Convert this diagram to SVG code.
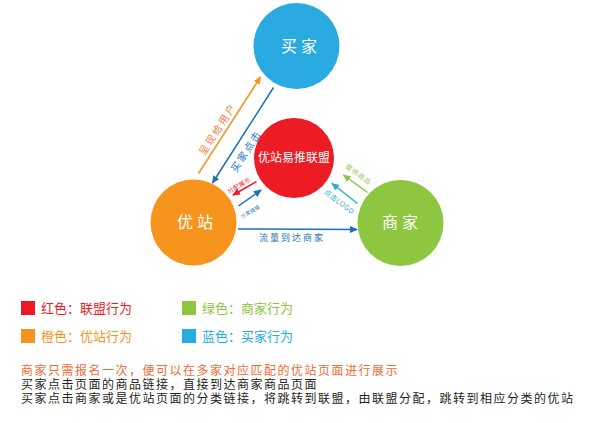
<svg xmlns="http://www.w3.org/2000/svg" width="590" height="423" viewBox="0 0 590 423">
<style>
text{font-family:"Noto Sans CJK SC","Liberation Sans",sans-serif}
.node{font-size:16px;fill:#fff;letter-spacing:4px}
.lbl{dominant-baseline:central;text-anchor:middle}
.ln{fill:none;stroke-width:1.5}
.leg{font-size:13px}
.note{font-family:"Liberation Sans","Noto Sans CJK SC",sans-serif;font-size:12px;letter-spacing:1.5px}
</style>
<defs>
<marker id="aO" markerWidth="8" markerHeight="8" refX="7" refY="4" orient="auto" markerUnits="userSpaceOnUse"><path d="M0,0.5 L8,4 L0,7.5 Z" fill="#f7941d"/></marker>
<marker id="aB" markerWidth="8" markerHeight="8" refX="7" refY="4" orient="auto" markerUnits="userSpaceOnUse"><path d="M0,0.5 L8,4 L0,7.5 Z" fill="#1c6fb8"/></marker>
<marker id="aR" markerWidth="8" markerHeight="8" refX="7" refY="4" orient="auto" markerUnits="userSpaceOnUse"><path d="M0,0.5 L8,4 L0,7.5 Z" fill="#ed1c24"/></marker>
<marker id="aG" markerWidth="8" markerHeight="8" refX="7" refY="4" orient="auto" markerUnits="userSpaceOnUse"><path d="M0,0.5 L8,4 L0,7.5 Z" fill="#8dc63f"/></marker>
<marker id="aL" markerWidth="8" markerHeight="8" refX="7" refY="4" orient="auto" markerUnits="userSpaceOnUse"><path d="M0,0.5 L8,4 L0,7.5 Z" fill="#29abe2"/></marker>
</defs>
<rect width="590" height="423" fill="#fff"/>

<g id="connectors">
<line class="ln" x1="198.5" y1="173.5" x2="260.5" y2="77" stroke="#f7941d" marker-end="url(#aO)"/>
<line class="ln" x1="273.5" y1="87.5" x2="212.5" y2="183" stroke="#1c6fb8" marker-end="url(#aB)"/>
<line class="ln" x1="256.5" y1="181.5" x2="233" y2="195" stroke="#ed1c24" stroke-width="1.3" marker-end="url(#aR)"/>
<line class="ln" x1="238.5" y1="206" x2="261" y2="190" stroke="#1c6fb8" stroke-width="1.3" marker-end="url(#aB)"/>
<line class="ln" x1="367.5" y1="192.5" x2="343.5" y2="175" stroke="#8dc63f" marker-end="url(#aG)"/>
<line class="ln" x1="357.5" y1="203.5" x2="332" y2="183.5" stroke="#29abe2" marker-end="url(#aL)"/>
<line class="ln" x1="238" y1="229" x2="357" y2="229.5" stroke="#1c6fb8" marker-end="url(#aB)"/>
<text class="lbl" transform="translate(217,128.5) rotate(-57)" font-size="10" letter-spacing="2" fill="#f47c48">呈现给用户</text>
<text class="lbl" transform="translate(245.5,150.5) rotate(-57)" font-size="10" letter-spacing="2" fill="#1c75bc">买家点击</text>
<text class="lbl" transform="translate(239,185) rotate(-30)" font-size="6" letter-spacing="0.5" fill="#ed1c24">分配展示</text>
<text class="lbl" transform="translate(250,211) rotate(-30)" font-size="5" letter-spacing="0.3" fill="#1c75bc">分类链接</text>
<text class="lbl" transform="translate(359,174) rotate(36)" font-size="6.5" letter-spacing="1" fill="#8dc63f">提供商品</text>
<text class="lbl" transform="translate(339.5,201.5) rotate(37)" font-size="7" letter-spacing="0.5" fill="#29abe2">点击LOGO</text>
<text x="292" y="241" font-size="9" letter-spacing="2" text-anchor="middle" fill="#1c75bc">流量到达商家</text>
</g>

<g id="buyer">
<circle cx="296.5" cy="46" r="43" fill="#29abe2"/>
<text class="node" x="301" y="52" text-anchor="middle">买家</text>
</g>
<g id="union">
<circle cx="294" cy="158" r="40" fill="#ed1c24"/>
<text x="294" y="162" font-size="12" fill="#fff" text-anchor="middle">优站易推联盟</text>
</g>
<g id="youzhan">
<circle cx="193.5" cy="222.5" r="43" fill="#f7941d"/>
<text class="node" x="197" y="228" text-anchor="middle">优站</text>
</g>
<g id="merchant">
<circle cx="400.5" cy="223" r="43" fill="#8dc63f"/>
<text class="node" x="402" y="228" text-anchor="middle">商家</text>
</g>

<g id="legend">
<rect x="21" y="301" width="14" height="14" fill="#ed1c24"/>
<text class="leg" x="41" y="313" fill="#ed1c24">红色：联盟行为</text>
<rect x="182" y="301" width="14" height="14" fill="#8dc63f"/>
<text class="leg" x="202" y="313" fill="#8dc63f">绿色：商家行为</text>
<rect x="21" y="329" width="14" height="14" fill="#f7941d"/>
<text class="leg" x="41" y="341" fill="#f7941d">橙色：优站行为</text>
<rect x="182" y="329" width="14" height="14" fill="#29abe2"/>
<text class="leg" x="202" y="341" fill="#29abe2">蓝色：买家行为</text>
</g>

<g id="notes">
<text class="note" x="21" y="375" fill="#f26a32">商家只需报名一次，便可以在多家对应匹配的优站页面进行展示</text>
<text class="note" x="21" y="389" fill="#231f20">买家点击页面的商品链接，直接到达商家商品页面</text>
<text class="note" x="21" y="403" fill="#231f20">买家点击商家或是优站页面的分类链接，将跳转到联盟，由联盟分配，跳转到相应分类的优站</text>
</g>
</svg>
